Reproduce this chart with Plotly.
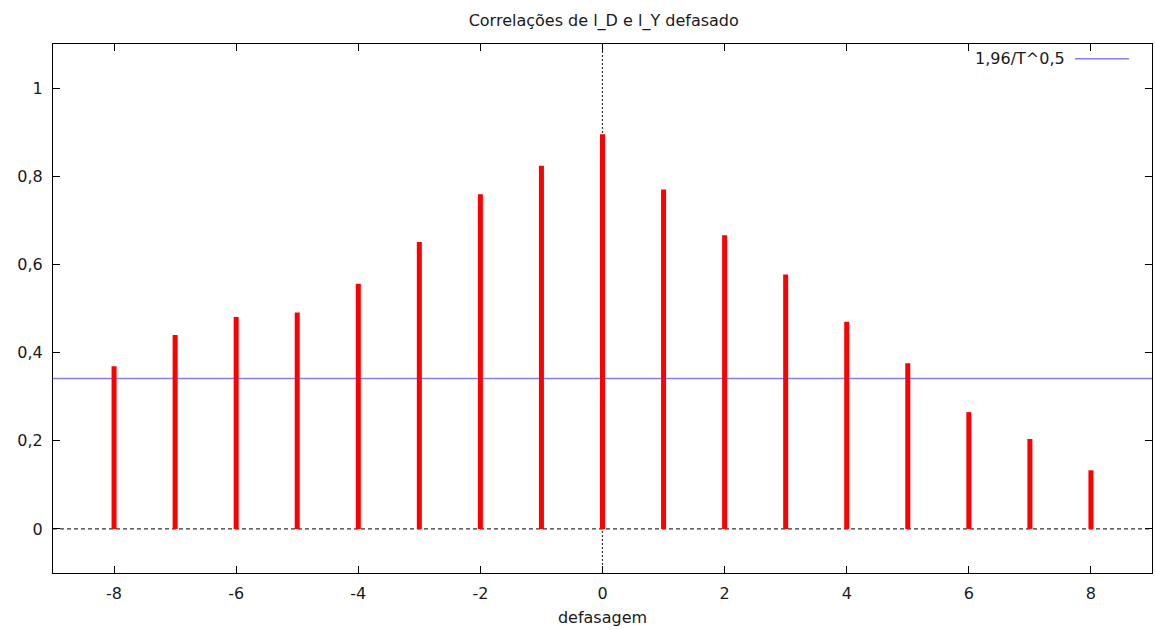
import plotly.graph_objects as go

lags = [-8, -7, -6, -5, -4, -3, -2, -1, 0, 1, 2, 3, 4, 5, 6, 7, 8]
corr = [0.369, 0.440, 0.481, 0.491, 0.556, 0.651, 0.759, 0.824, 0.895,
        0.770, 0.666, 0.577, 0.470, 0.376, 0.265, 0.204, 0.133]
bound = 0.3412
bound_label = "1,96/T^0,5"
title = "Correlações de l_D e l_Y defasado"
xlabel = "defasagem"
xtick_vals = [-8, -6, -4, -2, 0, 2, 4, 6, 8]
xtick_text = ["-8", "-6", "-4", "-2", "0", "2", "4", "6", "8"]

FONT = "DejaVu Sans"
FS = 16
TXT = "#1a1a1a"

xs, ys = [], []
for l, c in zip(lags, corr):
    xs += [l, l, None]
    ys += [0, c, None]

fig = go.Figure()
fig.add_trace(go.Scatter(x=[-9, 9], y=[bound, bound], mode="lines",
                         line=dict(color="#7f7fff", width=1.5), showlegend=False,
                         hoverinfo="skip"))
fig.add_trace(go.Scatter(x=xs, y=ys, mode="lines",
                         line=dict(color="#ff0000", width=5), showlegend=False))

# zero dashed line and dotted vertical at 0
fig.add_shape(type="line", xref="paper", yref="y", x0=0, x1=1, y0=0, y1=0,
              line=dict(color="black", width=1, dash="4px,3px"), layer="below")
fig.add_shape(type="line", xref="x", yref="paper", x0=0, x1=0, y0=0, y1=1,
              line=dict(color="#333", width=1.2, dash="2px,2px"), layer="below")

# gnuplot-style key: text then sample
fig.add_annotation(text=bound_label, xref="paper", yref="paper", x=0.9224, y=0.972,
                   xanchor="right", yanchor="middle", showarrow=False,
                   font=dict(family=FONT, size=FS, color=TXT))
fig.add_shape(type="line", xref="paper", yref="paper", x0=0.930, x1=0.979,
              y0=0.972, y1=0.972, line=dict(color="#7f7fff", width=1.5))

axis_common = dict(showline=True, linecolor="black", linewidth=1, mirror="ticks",
                   ticks="inside", ticklen=7, tickcolor="black", showgrid=False,
                   zeroline=False, automargin=False,
                   tickfont=dict(family=FONT, size=FS, color=TXT))

fig.update_xaxes(range=[-9, 9], tickmode="array", tickvals=xtick_vals,
                 ticktext=xtick_text, ticklabelstandoff=6,
                 title=dict(text=xlabel, font=dict(family=FONT, size=FS, color=TXT),
                            standoff=9),
                 **axis_common)
fig.update_yaxes(range=[-0.1, 1.1], tickmode="linear", tick0=0, dtick=0.2,
                 ticklabelstandoff=6,
                 **axis_common)

fig.update_layout(
    width=1155, height=630,
    margin=dict(l=53, r=3, t=44, b=57),
    paper_bgcolor="white", plot_bgcolor="white",
    separators=",.",
    title=dict(text=title, x=0.5227, xanchor="center", y=0.968, yanchor="middle",
               font=dict(family=FONT, size=FS, color=TXT)),
    font=dict(family=FONT, size=FS, color=TXT),
)

fig.write_html("out.html", config={"displayModeBar": False},
               post_script="document.body.style.margin='0';document.body.style.overflow='hidden';")
